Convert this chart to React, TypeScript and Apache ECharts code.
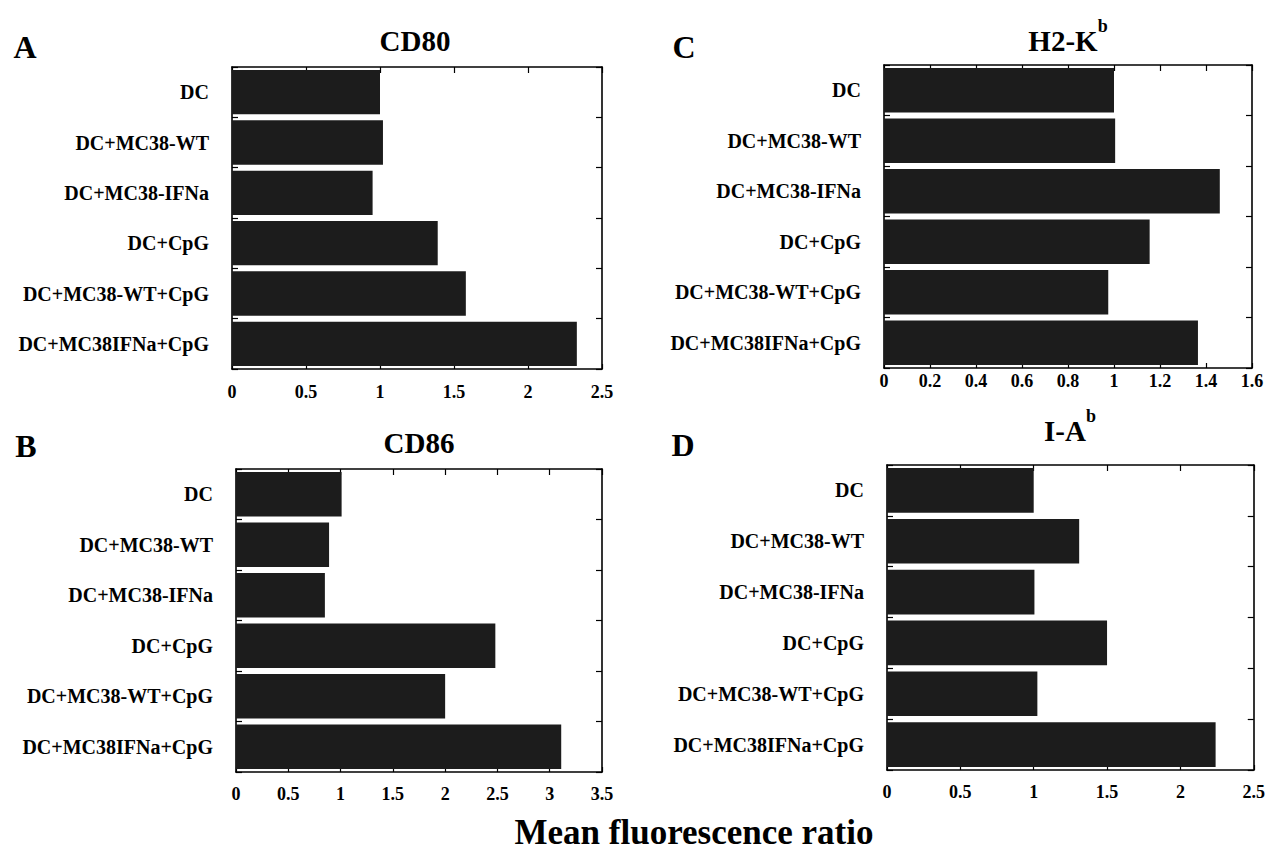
import React, { useEffect, useRef } from "react";
import * as echarts from "echarts";

const categories = [
  "DC",
  "DC+MC38-WT",
  "DC+MC38-IFNa",
  "DC+CpG",
  "DC+MC38-WT+CpG",
  "DC+MC38IFNa+CpG",
];
const cd80 = [1.0, 1.02, 0.95, 1.39, 1.58, 2.33];
const cd86 = [1.01, 0.89, 0.85, 2.48, 2.0, 3.11];
const h2kb = [1.0, 1.005, 1.46, 1.155, 0.975, 1.365];
const iab = [1.0, 1.31, 1.005, 1.5, 1.025, 2.24];

const axisMax = [2.5, 1.6, 3.5, 2.5];
const axisInterval = [0.5, 0.2, 0.5, 0.5];

const FONT = '"Liberation Serif", "Times New Roman", serif';

export default function App() {
  const ref = useRef<HTMLDivElement>(null);

  useEffect(() => {
    if (!ref.current) return;
    const chart = echarts.init(ref.current, undefined, { renderer: "svg" });

    const panels = [
      { data: cd80, grid: { left: 232, top: 67, width: 370, height: 302 }, labelMargin: 14 },
      { data: h2kb, grid: { left: 884, top: 65, width: 368, height: 303 }, labelMargin: 4 },
      { data: cd86, grid: { left: 236, top: 469, width: 366, height: 303 }, labelMargin: 13 },
      { data: iab, grid: { left: 887, top: 465, width: 367, height: 305 }, labelMargin: 13 },
    ];

    const lineStyle = { color: "#000", width: 1.6 };
    const grids: any[] = [];
    const xAxes: any[] = [];
    const yAxes: any[] = [];
    const series: any[] = [];

    panels.forEach((p, i) => {
      grids.push({ ...p.grid, containLabel: false });
      xAxes.push({
        type: "value",
        gridIndex: i,
        position: "bottom",
        min: 0,
        max: axisMax[i],
        interval: axisInterval[i],
        axisLine: { show: true, lineStyle },
        axisTick: { show: true, inside: true, length: 5, lineStyle: { color: "#000", width: 1.2 } },
        splitLine: { show: false },
        axisLabel: {
          show: true,
          margin: p.labelMargin,
          color: "#000",
          fontFamily: FONT,
          fontWeight: "bold",
          fontSize: 18,
          showMaxLabel: true,
          showMinLabel: true,
        },
      });
      xAxes.push({
        type: "value",
        gridIndex: i,
        position: "top",
        min: 0,
        max: axisMax[i],
        interval: axisInterval[i],
        axisLine: { show: true, onZero: false, lineStyle },
        axisTick: { show: true, inside: true, length: 6, lineStyle: { color: "#000", width: 1.2 } },
        splitLine: { show: false },
        axisLabel: { show: false },
      });
      yAxes.push({
        type: "category",
        gridIndex: i,
        position: "left",
        inverse: true,
        data: categories,
        axisLine: { show: true, onZero: false, lineStyle },
        axisTick: { show: true, inside: true, length: 6, lineStyle: { color: "#000", width: 1.2 } },
        axisLabel: {
          margin: 23,
          color: "#000",
          fontFamily: FONT,
          fontWeight: "bold",
          fontSize: 20,
        },
      });
      yAxes.push({
        type: "category",
        gridIndex: i,
        position: "right",
        inverse: true,
        data: categories,
        axisLine: { show: true, onZero: false, lineStyle },
        axisTick: { show: true, inside: true, length: 6, lineStyle: { color: "#000", width: 1.2 } },
        axisLabel: { show: false },
      });
      series.push({
        type: "bar",
        xAxisIndex: i * 2,
        yAxisIndex: i * 2,
        data: p.data,
        barCategoryGap: "12%",
        itemStyle: { color: "#1c1c1c" },
        z: 1,
      });
    });

    const letter = (t: string, x: number, y: number) => ({
      type: "text",
      x,
      y,
      style: {
        text: t,
        font: `bold 32px ${FONT}`,
        fill: "#000",
        align: "center",
        verticalAlign: "middle",
        textAlign: "center",
        textVerticalAlign: "middle",
      },
    });

    const title = (main: string, sup: string, x: number, y: number) => ({
      type: "text",
      x,
      y,
      style: {
        text: sup ? `{m|${main}}{s|${sup}}` : `{m|${main}}`,
        fill: "#000",
        align: "center",
        verticalAlign: "middle",
        textAlign: "center",
        textVerticalAlign: "middle",
        rich: {
          m: {
            fontFamily: FONT,
            fontWeight: "bold",
            fontSize: 29,
            lineHeight: 38,
            verticalAlign: "bottom",
            fill: "#000",
          },
          s: {
            fontFamily: FONT,
            fontWeight: "bold",
            fontSize: 18,
            lineHeight: 38,
            verticalAlign: "top",
            fill: "#000",
          },
        },
      },
    });

    chart.setOption({
      animation: false,
      backgroundColor: "#fff",
      grid: grids,
      xAxis: xAxes,
      yAxis: yAxes,
      series,
      graphic: [
        letter("A", 25, 47),
        letter("C", 684, 47),
        letter("B", 26, 446),
        letter("D", 683, 445),
        title("CD80", "", 415, 36),
        title("H2-K", "b", 1068, 36),
        title("CD86", "", 419, 438),
        title("I-A", "b", 1070, 426),
        {
          type: "text",
          x: 694,
          y: 832,
          style: {
            text: "Mean fluorescence ratio",
            font: `bold 35px ${FONT}`,
            fill: "#000",
            align: "center",
            verticalAlign: "middle",
            textAlign: "center",
            textVerticalAlign: "middle",
          },
        },
      ],
    });

    return () => chart.dispose();
  }, []);

  return (
    <div
      ref={ref}
      style={{ position: "absolute", left: 0, top: 0, width: 1268, height: 851, background: "#fff" }}
    />
  );
}
